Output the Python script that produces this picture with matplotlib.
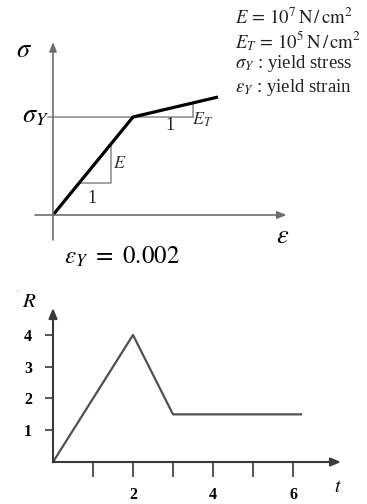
import matplotlib
matplotlib.use("Agg")
import matplotlib.pyplot as plt

plt.rcParams["font.family"] = ["Liberation Serif", "DejaVu Serif"]
plt.rcParams["mathtext.fontset"] = "stix"

# Bilinear stress-strain law, in units of yield strain / yield stress
strain_pts = [0.0, 1.0, 2.0625]
stress_pts = [0.0, 1.0, 1.204]
material_notes = [
    r"$E\,=\,10^7\,\mathrm{N}\,/\,\mathrm{cm}^2$",
    r"$E_T\,=\,10^5\,\mathrm{N}\,/\,\mathrm{cm}^2$",
    r"$\sigma_Y$ : yield stress",
    r"$\varepsilon_Y$ : yield strain",
]
yield_strain_text = r"$\varepsilon_Y\ =\ 0.002$"

# Load history R(t)
t_pts = [0, 2, 3, 6.2]
r_pts = [0, 4, 1.5, 1.5]
t_ticks = [1, 2, 3, 4, 5, 6]
t_tick_labels = ["", "2", "", "4", "", "6"]
r_ticks = [1, 2, 3, 4]
r_tick_labels = ["1", "2", "3", "4"]

W, H = 367, 504
fig = plt.figure(figsize=(W / 100, H / 100), dpi=100)

# ---------------- stress-strain diagram ----------------
ax1 = fig.add_axes([0, (H - 270) / H, 1, 270 / H])
ax1.set_xlim(-53 / 80, 314 / 80)
ax1.set_ylim(-55 / 98, 215 / 98)
ax1.axis("off")

axis_gray = "#6e6e6e"
arrow_kw = dict(arrowstyle="-|>,head_length=0.55,head_width=0.22",
                color=axis_gray, lw=1.2, shrinkA=0, shrinkB=0)
ax1.annotate("", xy=(0, 1.765), xytext=(0, -0.255), arrowprops=arrow_kw)
ax1.annotate("", xy=(2.92, 0), xytext=(-0.225, 0), arrowprops=arrow_kw)

# yield stress level and tangent-modulus triangle
ax1.plot([-0.06, 1.75], [1.0, 1.0], color="#8a8a8a", lw=1.1)
slope_t = (stress_pts[2] - stress_pts[1]) / (strain_pts[2] - strain_pts[1])
ax1.plot([1.75, 1.75], [1.0, 1.0 + slope_t * 0.75], color="#8a8a8a", lw=1.1)

# elastic slope triangle
y0 = 0.3265
ax1.plot([y0, 0.72, 0.72], [y0, y0, 0.72], color="#8a8a8a", lw=1.1)

ax1.plot(strain_pts, stress_pts, color="black", lw=2.3, solid_capstyle="butt")

ax1.text(0.83, 0.53, r"$E$", fontsize=13, ha="center", va="center", color="#333333")
ax1.text(0.49, 0.17, "1", fontsize=13, ha="center", va="center", color="#222222")
ax1.text(1.46, 0.91, "1", fontsize=13, ha="center", va="center", color="#222222")
ax1.text(1.74, 0.97, r"$E_T$", fontsize=13, ha="left", va="center", color="#333333")

ax1.text(-0.36, 1.67, r"$\sigma$", fontsize=19, ha="center", va="center")
ax1.text(-0.05, 1.0, r"$\sigma_Y$", fontsize=19, ha="right", va="center")
ax1.text(2.87, -0.22, r"$\varepsilon$", fontsize=19, ha="center", va="center")
ax1.text(0.86, -0.43, yield_strain_text, fontsize=18, ha="center", va="center")

for i, note in enumerate(material_notes):
    fig.text(235 / W, 1 - (18 + 23 * i) / H, note, fontsize=13.5,
             ha="left", va="center", color="#222222")

# ---------------- load history ----------------
x0, x1 = 53, 341
yb, yt = 462, 308
ax2 = fig.add_axes([x0 / W, (H - yb) / H, (x1 - x0) / W, (yb - yt) / H])
ax2.set_xlim(0, 7.2)
ax2.set_ylim(0, 4.85)
for s in ax2.spines.values():
    s.set_visible(False)
ax2.patch.set_visible(False)

dark = "#3a3a3a"
arrow_kw2 = dict(arrowstyle="-|>,head_length=0.6,head_width=0.25",
                 color=dark, lw=1.5, shrinkA=0, shrinkB=0)
ax2.annotate("", xy=(0, 4.85), xytext=(0, 0), arrowprops=arrow_kw2,
             annotation_clip=False)
ax2.annotate("", xy=(7.2, 0), xytext=(0, 0), arrowprops=arrow_kw2,
             annotation_clip=False)

ax2.plot(t_pts, r_pts, color="#505050", lw=1.6, clip_on=False)

ax2.set_xticks(t_ticks)
ax2.set_xticklabels(t_tick_labels, fontsize=11.5, fontweight="bold")
ax2.set_yticks(r_ticks)
ax2.set_yticklabels(r_tick_labels, fontsize=11.5, fontweight="bold")
ax2.tick_params(axis="x", direction="out", length=11, width=1.2, color=dark, pad=7)
ax2.tick_params(axis="y", direction="out", length=6, width=1.2, color=dark, pad=9)

fig.text(29 / W, 1 - 301 / H, r"$R$", fontsize=15, ha="center", va="center",
         family=["DejaVu Sans"], style="italic")
fig.text(17 / W, 1 - 294 / H, "'", fontsize=6, ha="center", va="center", color="#999999")
fig.text(338 / W, 1 - 488 / H, r"$t$", fontsize=14, ha="center", va="center")

fig.savefig("out.png", dpi=100)
